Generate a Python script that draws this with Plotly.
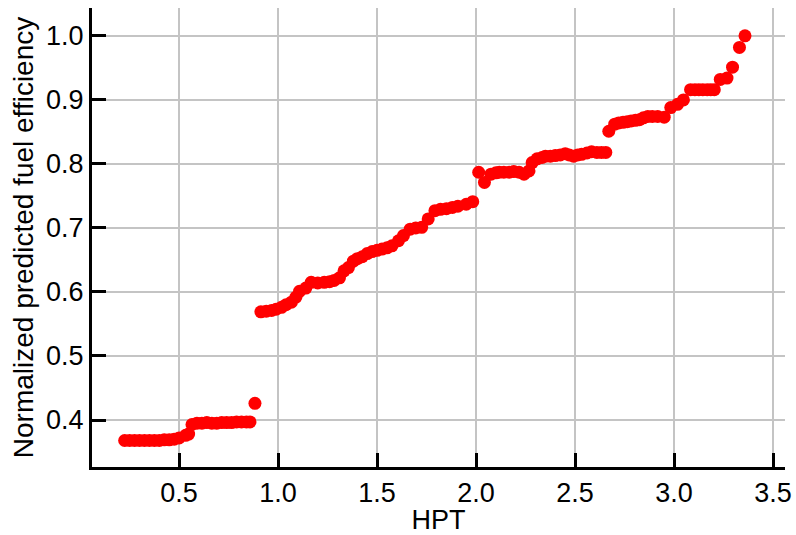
import plotly.graph_objects as go

# HPT setting and the normalized fuel efficiency predicted for it
hpt = [
    0.225, 0.25, 0.275, 0.30, 0.325, 0.35, 0.375, 0.40, 0.425, 0.45, 0.475, 0.50,
    0.533, 0.548, 0.565, 0.59, 0.615, 0.64, 0.665, 0.69, 0.715, 0.74, 0.765, 0.79,
    0.815, 0.84, 0.858, 0.883,
    0.913, 0.94, 0.967, 0.99, 1.017, 1.04, 1.067, 1.09, 1.108, 1.14, 1.167, 1.20,
    1.233, 1.26, 1.283, 1.31, 1.333, 1.355, 1.38, 1.40, 1.425, 1.45, 1.475, 1.50,
    1.525, 1.55, 1.575, 1.608, 1.633, 1.667, 1.695, 1.725, 1.758, 1.792, 1.82,
    1.85, 1.88, 1.908, 1.95, 1.983,
    2.013, 2.042, 2.075, 2.10, 2.117, 2.14, 2.167, 2.19, 2.217, 2.242, 2.267,
    2.283, 2.308, 2.333, 2.35, 2.375, 2.40, 2.425, 2.45, 2.47, 2.492, 2.513,
    2.533, 2.56, 2.583, 2.61, 2.633, 2.655,
    2.67, 2.70, 2.72, 2.742, 2.763, 2.783, 2.805, 2.825, 2.845, 2.867, 2.89,
    2.917, 2.95, 2.983, 3.017, 3.047, 3.083, 3.105, 3.125, 3.145, 3.167, 3.185,
    3.203, 3.233, 3.267, 3.295, 3.33, 3.358,
]
efficiency = [
    0.368, 0.368, 0.368, 0.368, 0.368, 0.368, 0.368, 0.368, 0.369, 0.369, 0.370, 0.372,
    0.376, 0.378, 0.393, 0.395, 0.395, 0.396, 0.395, 0.395, 0.396, 0.396, 0.396, 0.397,
    0.397, 0.397, 0.397, 0.426,
    0.569, 0.570, 0.571, 0.573, 0.576, 0.580, 0.584, 0.592, 0.601, 0.606, 0.615, 0.614,
    0.615, 0.616, 0.618, 0.622, 0.633, 0.638, 0.648, 0.652, 0.655, 0.660, 0.663, 0.665,
    0.667, 0.669, 0.672, 0.680, 0.688, 0.698, 0.700, 0.701, 0.714, 0.727, 0.729,
    0.730, 0.732, 0.734, 0.737, 0.741,
    0.787, 0.771, 0.784, 0.786, 0.787, 0.787, 0.787, 0.788, 0.787, 0.784, 0.789,
    0.802, 0.808, 0.810, 0.812, 0.812, 0.813, 0.814, 0.816, 0.814, 0.812, 0.814,
    0.815, 0.817, 0.819, 0.818, 0.818, 0.818,
    0.851, 0.862, 0.864, 0.865, 0.866, 0.867, 0.868, 0.869, 0.872, 0.874, 0.874,
    0.874, 0.873, 0.888, 0.893, 0.900, 0.916, 0.916, 0.916, 0.916, 0.916, 0.916,
    0.916, 0.932, 0.934, 0.951, 0.982, 1.000,
]

x_ticks = [0.5, 1.0, 1.5, 2.0, 2.5, 3.0, 3.5]
y_ticks = [0.4, 0.5, 0.6, 0.7, 0.8, 0.9, 1.0]

font_family = "Liberation Sans, Arial, sans-serif"

fig = go.Figure(
    go.Scatter(
        x=hpt,
        y=efficiency,
        mode="markers",
        marker=dict(color="#ff0000", size=13, line=dict(width=0)),
        hoverinfo="x+y",
    )
)

axis_common = dict(
    showline=True,
    linecolor="black",
    linewidth=3,
    mirror=False,
    ticks="inside",
    ticklen=14,
    tickwidth=2.5,
    tickcolor="black",
    showgrid=True,
    gridcolor="#c4c4c4",
    gridwidth=1.5,
    zeroline=False,
    ticklabeloverflow="allow",
    tickfont=dict(family=font_family, size=27, color="black"),
)

fig.update_xaxes(
    range=[0.06, 3.56],
    tickvals=x_ticks,
    ticktext=[f"{v:.1f}" for v in x_ticks],
    title=dict(text="HPT", font=dict(family=font_family, size=27, color="black"), standoff=4),
    **axis_common,
)
fig.update_yaxes(
    range=[0.3266, 1.0435],
    tickvals=y_ticks,
    ticktext=[f"{v:.1f}" for v in y_ticks],
    title=dict(text="Normalized predicted fuel efficiency",
               font=dict(family=font_family, size=28, color="black"), standoff=5),
    **axis_common,
)

fig.update_layout(
    width=796,
    height=535,
    margin=dict(l=92, r=4, t=8, b=66),
    paper_bgcolor="white",
    plot_bgcolor="white",
    showlegend=False,
    font=dict(family=font_family, color="black"),
)

fig.write_html("out.html")
